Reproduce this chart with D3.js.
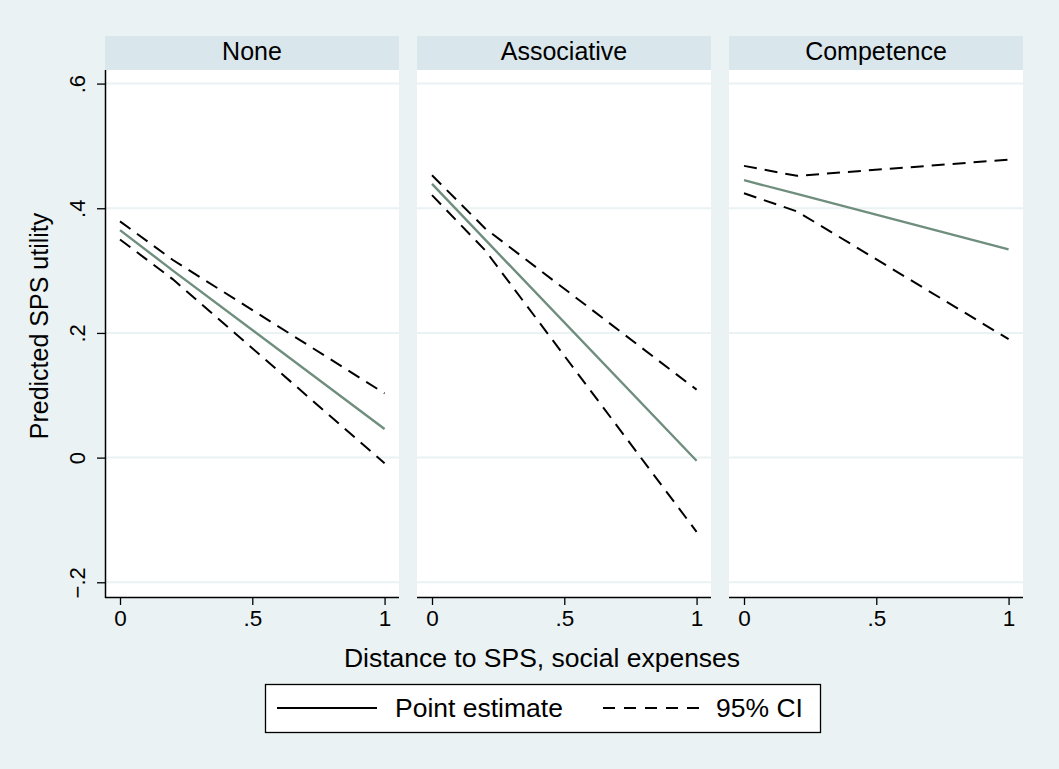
<!DOCTYPE html>
<html lang="en">
<head>
    <meta charset="UTF-8">
    <title>Predicted SPS utility by distance to SPS</title>
    <script src="https://d3js.org/d3.v7.min.js"></script>
    <style>
        body { margin: 0; background-color: #eaf2f3; }
        svg { display: block; font-family: "Liberation Sans", Arial, Helvetica, sans-serif; }
        .grid line { stroke: #eaf2f3; stroke-width: 2; }
        .axis path, .axis line { stroke: #000; }
        .ci-line { fill: none; stroke: #000; stroke-width: 2; stroke-dasharray: 13, 8; }
        .pe-line { fill: none; stroke: #6f8e7e; stroke-width: 2.4; }
    </style>
</head>
<body>
    <svg class="chart" width="1059" height="769"></svg>

    <script>
        // values
        const panels = ["None", "Associative", "Competence"];
        const xVals = [0, 0.2, 1];
        const pointEst = [
            [0.365, 0.300, 0.046],
            [0.439, 0.350, -0.005],
            [0.445, 0.423, 0.334]
        ];
        const ciUpper = [
            [0.379, 0.317, 0.103],
            [0.453, 0.368, 0.109],
            [0.468, 0.452, 0.478]
        ];
        const ciLower = [
            [0.350, 0.286, -0.009],
            [0.421, 0.333, -0.119],
            [0.424, 0.395, 0.190]
        ];
        const yTicks = [-0.2, 0, 0.2, 0.4, 0.6];
        const yTickLabels = ["\u2212.2", "0", ".2", ".4", ".6"];
        const xTicks = [0, 0.5, 1];
        const xTickLabels = ["0", ".5", "1"];
        const legendLabels = ["Point estimate", "95% CI"];

        const plotTop = 70, plotBottom = 597, stripTop = 36;
        const panelW = 294, panelGap = 18, firstLeft = 105;

        const svg = d3.select(".chart");

        svg.append("rect")
            .attr("width", 1059).attr("height", 769)
            .attr("fill", "#eaf2f3");

        const y = d3.scaleLinear().domain([-0.2236, 0.6218]).range([plotBottom, plotTop]);

        panels.forEach((name, i) => {
            const left = firstLeft + i * (panelW + panelGap);
            const x = d3.scaleLinear().domain([-0.0567, 1.0545]).range([left, left + panelW]);
            const g = svg.append("g");

            // strip header
            g.append("rect")
                .attr("x", left).attr("y", stripTop)
                .attr("width", panelW).attr("height", plotTop - stripTop)
                .attr("fill", "#d9e6eb");
            g.append("text")
                .attr("x", left + panelW / 2).attr("y", 59.5)
                .attr("text-anchor", "middle")
                .attr("font-size", 25)
                .text(name);

            // plot region
            g.append("rect")
                .attr("x", left).attr("y", plotTop)
                .attr("width", panelW).attr("height", plotBottom - plotTop)
                .attr("fill", "#fff");

            // gridlines
            g.append("g").attr("class", "grid")
                .selectAll("line").data(yTicks).join("line")
                .attr("x1", left).attr("x2", left + panelW)
                .attr("y1", d => y(d)).attr("y2", d => y(d));

            // lines
            const line = (vals) => d3.line()
                .x((d, k) => x(xVals[k]))
                .y(d => y(d))(vals);

            g.append("path").attr("class", "ci-line").attr("d", line(ciUpper[i]));
            g.append("path").attr("class", "ci-line").attr("d", line(ciLower[i]));
            g.append("path").attr("class", "pe-line").attr("d", line(pointEst[i]));

            // x axis
            const xAxis = d3.axisBottom(x)
                .tickValues(xTicks)
                .tickSize(8)
                .tickPadding(5)
                .tickFormat((d, k) => xTickLabels[k]);
            const xg = g.append("g")
                .attr("class", "axis")
                .attr("transform", `translate(0,${plotBottom})`)
                .call(xAxis);
            xg.select(".domain").attr("d", `M${left},0.5H${left + panelW}`).attr("stroke-width", 1.5);
            xg.selectAll(".tick line").attr("stroke-width", 1.3);
            xg.selectAll(".tick text")
                .attr("font-size", 22.5)
                .attr("font-family", null)
                .attr("fill", "#000");

            // y axis only on the first panel
            if (i === 0) {
                const yAxis = d3.axisLeft(y)
                    .tickValues(yTicks)
                    .tickSize(8)
                    .tickFormat((d, k) => yTickLabels[k]);
                const yg = g.append("g")
                    .attr("class", "axis")
                    .attr("transform", `translate(${left},0)`)
                    .call(yAxis);
                yg.select(".domain").attr("d", `M0.5,${plotTop}V${plotBottom + 1}`).attr("stroke-width", 1.5);
                yg.selectAll(".tick line").attr("stroke-width", 1.3);
                yg.selectAll(".tick text")
                    .attr("font-size", 22)
                    .attr("font-family", null)
                    .attr("fill", "#000")
                    .attr("x", null).attr("dy", null)
                    .attr("text-anchor", "middle")
                    .attr("transform", "translate(-20,0) rotate(-90)");
            }
        });

        // axis titles
        svg.append("text")
            .attr("transform", "translate(48,326) rotate(-90)")
            .attr("text-anchor", "middle")
            .attr("font-size", 25)
            .text("Predicted SPS utility");

        svg.append("text")
            .attr("x", 542).attr("y", 667)
            .attr("text-anchor", "middle")
            .attr("font-size", 26.5)
            .text("Distance to SPS, social expenses");

        // legend
        const lg = svg.append("g");
        lg.append("rect")
            .attr("x", 265.5).attr("y", 684.5)
            .attr("width", 555).attr("height", 48)
            .attr("fill", "#fff").attr("stroke", "#000").attr("stroke-width", 1.3);
        lg.append("line")
            .attr("x1", 277).attr("x2", 377).attr("y1", 708).attr("y2", 708)
            .attr("stroke", "#000").attr("stroke-width", 2);
        lg.append("text")
            .attr("x", 395).attr("y", 717)
            .attr("font-size", 26.5)
            .text(legendLabels[0]);
        lg.append("line")
            .attr("x1", 603).attr("x2", 703).attr("y1", 708).attr("y2", 708)
            .attr("stroke", "#000").attr("stroke-width", 2)
            .attr("stroke-dasharray", "12,9");
        lg.append("text")
            .attr("x", 716).attr("y", 717)
            .attr("font-size", 26.5)
            .text(legendLabels[1]);
    </script>
</body>
</html>
